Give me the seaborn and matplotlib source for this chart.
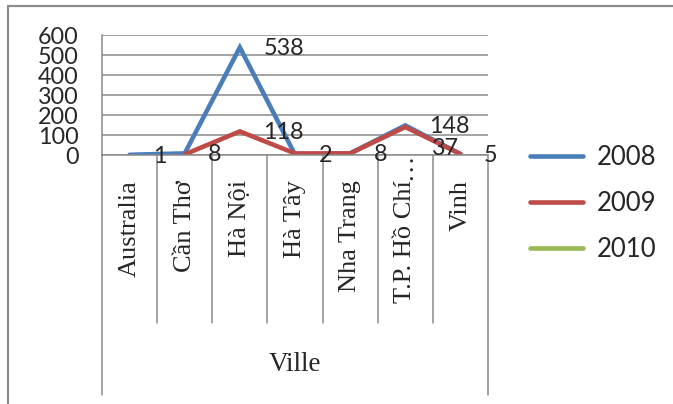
import numpy as np
import pandas as pd
import matplotlib
matplotlib.use("Agg")
import matplotlib.pyplot as plt
import matplotlib.transforms as mtransforms
from matplotlib.lines import Line2D
import seaborn as sns

# ---------------- data ----------------
categories = ["Australia", "Cần Thơ", "Hà Nội", "Hà Tây", "Nha Trang", "T.P. Hồ Chí…", "Vinh"]
years = ["2008", "2009", "2010"]
values_2008 = [1, 8, 538, 2, 8, 148, 5]
values_2009 = [np.nan, 3, 118, 8, 8, 140, 5]
values_2010 = [np.nan, np.nan, np.nan, np.nan, np.nan, np.nan, np.nan]
labels_2008 = ["1", "8", "538", "2", "8", "148", "5"]
labels_2009 = ["", "", "118", "", "", "37", ""]
y_ticks = [0, 100, 200, 300, 400, 500, 600]
x_title = "Ville"

# ---------------- style ----------------
sns.set_style("white")
plt.rcParams["font.family"] = ["Lato", "DejaVu Sans"]
SERIF = ["Liberation Serif", "DejaVu Serif"]
colors = {"2008": "#4A7EBB", "2009": "#BE4B48", "2010": "#98B954"}
GRID = "#8a8a8a"
NUM_FS = 16.8

W, H = 673, 404
fig = plt.figure(figsize=(W / 100, H / 100), dpi=100)
L, R, T, B = 102, 488, 35, 155
ax = fig.add_axes([L / W, 1 - B / H, (R - L) / W, (B - T) / H])

rows = []
for yr, vals in zip(years, [values_2008, values_2009, values_2010]):
    for i, v in enumerate(vals):
        rows.append({"pos": i, "value": v, "year": yr})
df = pd.DataFrame(rows).dropna()

sns.lineplot(data=df, x="pos", y="value", hue="year", hue_order=years,
             palette=colors, linewidth=3.3, errorbar=None, legend=False,
             sort=False, ax=ax)
for ln in ax.get_lines():
    ln.set_solid_capstyle("round")
    ln.set_solid_joinstyle("miter")

ax.set_xlim(-0.5, len(categories) - 0.5)
ax.set_ylim(min(y_ticks), max(y_ticks))
ax.set_yticks(y_ticks)
ax.set_yticklabels([str(t) for t in y_ticks])
ax.tick_params(axis="y", length=5, width=1, color=GRID, pad=12, labelsize=NUM_FS)
ax.set_xticks([])
ax.set_xlabel("")
ax.set_ylabel("")
ax.yaxis.grid(True, color=GRID, linewidth=1.1)
ax.xaxis.grid(False)
for s in ["top", "right"]:
    ax.spines[s].set_visible(False)
for s in ["left", "bottom"]:
    ax.spines[s].set_color(GRID)
    ax.spines[s].set_linewidth(1.1)

# category dividers below the axis
blend = mtransforms.blended_transform_factory(ax.transData, ax.transAxes)
inner_bottom = -(323 - B) / (B - T)
outer_bottom = -(395 - B) / (B - T)
for k in range(len(categories) + 1):
    xb = k - 0.5
    yb = outer_bottom if k in (0, len(categories)) else inner_bottom
    ax.plot([xb, xb], [0, yb], color=GRID, lw=1.1, transform=blend, clip_on=False)

# category labels (rotated, serif)
label_top = -(180 - B) / (B - T)
CAT_FS = 19
for i, c in enumerate(categories):
    if c.endswith("…"):
        stem = c[:-1]
        ax.text(i, label_top, stem, transform=blend, rotation=90, rotation_mode="anchor",
                ha="right", va="center", family=SERIF, fontsize=CAT_FS)
        ax.text(i, label_top, "…", transform=blend, rotation=90, rotation_mode="anchor",
                ha="left", va="center", family=SERIF, fontsize=CAT_FS)
    else:
        ax.text(i, label_top, c, transform=blend, rotation=90, rotation_mode="anchor",
                ha="right", va="center", family=SERIF, fontsize=CAT_FS)

ax.text(0.5, -(365 - B) / (B - T), x_title, transform=ax.transAxes, ha="center",
        va="center", family=SERIF, fontsize=19.5)

# data labels
for i, (v, t) in enumerate(zip(values_2008, labels_2008)):
    if t:
        ax.annotate(t, xy=(i, v), xytext=(17.0, -1.0), textcoords="offset points",
                    ha="left", va="center", fontsize=NUM_FS, annotation_clip=False)
for i, (v, t) in enumerate(zip(values_2009, labels_2009)):
    if t:
        dy = -1.0 if v < 130 else -15.5
        dx = 17.0 if v < 130 else 19.0
        ax.annotate(t, xy=(i, v), xytext=(dx, dy), textcoords="offset points",
                    ha="left", va="center", fontsize=NUM_FS, annotation_clip=False)

# legend
handles = [Line2D([], [], color=colors[y], lw=3.3, solid_capstyle="round") for y in years]
fig.legend(handles, years, loc="upper left", bbox_to_anchor=(530 / W, 1 - 145 / H),
           frameon=False, prop={"family": "Lato", "size": 18.5}, handlelength=2.05,
           handletextpad=0.55, labelspacing=0.82, borderpad=0, borderaxespad=0)

# chart-area border (top & left visible)
fig.add_artist(Line2D([8 / W, 1.0], [1 - 6 / H, 1 - 6 / H], transform=fig.transFigure,
                      color="#8c8c8c", lw=1.6))
fig.add_artist(Line2D([8 / W, 8 / W], [0, 1 - 6 / H], transform=fig.transFigure,
                      color="#8c8c8c", lw=1.6))

fig.savefig("out.png", dpi=100, facecolor="white")
